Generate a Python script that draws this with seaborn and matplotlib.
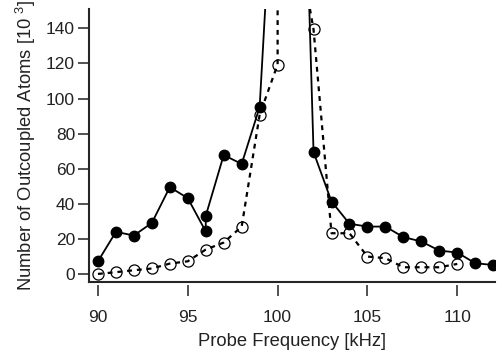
import numpy as np
import pandas as pd
import seaborn as sns
import matplotlib.pyplot as plt

# filled markers, solid line (x=96 measured twice)
freq_filled = [90, 91, 92, 93, 94, 95, 96, 96, 97, 98, 99, 100, 101,
               102, 103, 104, 105, 106, 107, 108, 109, 110, 111, 112]
atoms_filled = [7.2, 24, 21.9, 29.1, 49.5, 43.2, 24.2, 33.1, 67.8, 62.7, 95.2, 277, 416,
                69.5, 41.3, 28.6, 27, 27, 21, 18.5, 13.3, 12.2, 6.1, 5.1]

# open markers, dashed line
freq_open = [90, 91, 92, 93, 94, 95, 96, 97, 98, 99, 100, 100,
             102, 103, 104, 105, 106, 107, 108, 109, 110]
atoms_open = [0, 1, 2.1, 3.1, 5.9, 7.2, 13.9, 17.9, 27, 90.8, 119.4, 256,
              139.4, 23.2, 23.2, 9.9, 9, 3.8, 3.8, 3.8, 5.7]
open_marker = [True] * 11 + [False] + [True] * 9

x_ticks = [90, 95, 100, 105, 110]
y_ticks = [0, 20, 40, 60, 80, 100, 120, 140]

sns.set_style("ticks")
plt.rcParams["font.family"] = ["Liberation Sans", "DejaVu Sans"]
plt.rcParams["mathtext.default"] = "regular"

fig = plt.figure(figsize=(5.01, 3.51), dpi=100)
ax = fig.add_axes([0.1776, 0.1966, 0.988 - 0.1776, 0.974 - 0.1966])

df_f = pd.DataFrame({"freq": freq_filled, "atoms": atoms_filled})
df_o = pd.DataFrame({"freq": freq_open, "atoms": atoms_open})

sns.lineplot(data=df_f, x="freq", y="atoms", sort=False, estimator=None,
             color="black", linewidth=1.3, ax=ax)
ax.plot(df_f["freq"], df_f["atoms"], linestyle="none", marker="o",
        markersize=7.5, color="black")

sns.lineplot(data=df_o, x="freq", y="atoms", sort=False, estimator=None,
             color="black", linewidth=1.6, ax=ax)
ax.lines[-1].set_dashes([2.2, 2.2])
mo = df_o[open_marker]
ax.plot(mo["freq"], mo["atoms"], linestyle="none", marker="o",
        markersize=8, markerfacecolor="none", markeredgecolor="black",
        markeredgewidth=0.9)

ax.set_xlim(89.5, 112.1)
ax.set_ylim(-4.6, 151)
ax.set_yticks(y_ticks)
ax.tick_params(axis="y", direction="out", length=8, width=1.1,
               labelsize=12.5, colors="#222222", pad=2)
ax.tick_params(axis="x", length=0, labelbottom=False)
for s in ["top", "right"]:
    ax.spines[s].set_visible(False)
for s in ["left", "bottom"]:
    ax.spines[s].set_linewidth(1.5)

secax = ax.secondary_xaxis(-0.011)
secax.spines["bottom"].set_visible(False)
secax.set_xticks(x_ticks)
secax.tick_params(axis="x", direction="out", length=8, width=1.1,
                  labelsize=12.5, colors="#222222", pad=10)
secax.set_xlabel("Probe Frequency [kHz]", fontsize=13.2, color="#222222", labelpad=6)

ax.set_xlabel("")
ax.set_ylabel("Number of Outcoupled Atoms [10 $^{3}$]", fontsize=13.2,
              color="#222222", labelpad=6)

fig.savefig("out.png", dpi=100)
